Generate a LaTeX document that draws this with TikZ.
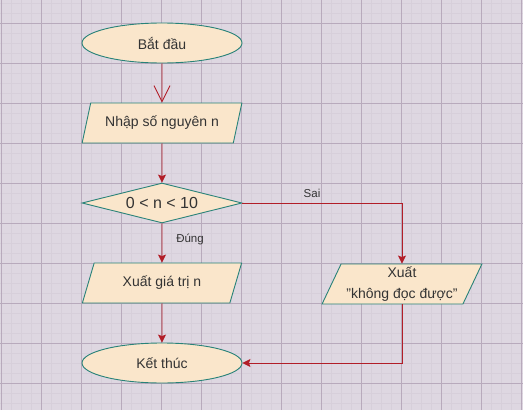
\documentclass[tikz,border=0pt]{standalone}
\usepackage{fontspec}
\setmainfont{Liberation Sans}
\usetikzlibrary{shapes.geometric,arrows.meta}
\definecolor{bgc}{RGB}{222,215,225}
\definecolor{minorc}{RGB}{215,207,218}
\definecolor{majorc}{RGB}{184,170,188}
\definecolor{fillc}{RGB}{250,230,203}
\definecolor{strokec}{RGB}{40,130,120}
\definecolor{linec}{RGB}{178,30,40}
\definecolor{txtc}{RGB}{51,51,51}
\tikzset{
  box/.style={draw=strokec, fill=fillc, line width=0.9pt, text=txtc, inner sep=0pt,
    font=\fontsize{14}{17}\selectfont},
  term/.style={box, ellipse, minimum width=160pt, minimum height=40pt},
  io/.style={box, trapezium, trapezium left angle=63.43, trapezium right angle=116.57,
    trapezium stretches=true, minimum width=160pt, minimum height=40pt},
  decide/.style={box, diamond, aspect=4, minimum width=160pt, minimum height=40pt,
    font=\fontsize{16}{19}\selectfont},
  conn/.style={draw=linec, line width=0.9pt, -{Stealth[length=8pt,width=8pt,inset=1.5pt]}},
  openconn/.style={draw=linec, line width=0.9pt, -{Straight Barb[length=16pt,width=16pt]}},
  lbl/.style={text=txtc, font=\fontsize{11.5}{13}\selectfont, inner sep=0pt}
}
\begin{document}
\begin{tikzpicture}[x=1pt,y=-1pt]
\useasboundingbox (0,0) rectangle (523,410);
\fill[bgc] (0,0) rectangle (523,410);
\foreach \i in {0,...,52} \draw[minorc,line width=0.4pt] (1+10*\i,0) -- (1+10*\i,410);
\foreach \j in {0,...,40} \draw[minorc,line width=0.4pt] (0,3+10*\j) -- (523,3+10*\j);
\foreach \i in {0,...,13} \draw[majorc,line width=0.7pt] (1+40*\i,0) -- (1+40*\i,410);
\foreach \j in {0,...,9} \draw[majorc,line width=0.7pt] (0,23+40*\j) -- (523,23+40*\j);

\node[term] (start) at (162,43) {Bắt đầu};
\node[io] (in1) at (162,123) {Nhập số nguyên n};
\node[decide] (dec) at (162,203) {0 < n < 10};
\node[io] (out1) at (162,283) {Xuất giá trị n};
\node[io, align=center, font=\fontsize{14}{21}\selectfont] (out2) at (402,284) {Xuất\\"không đọc được"};
\node[term] (end) at (162,363) {Kết thúc};

\draw[openconn] (start.south) -- (in1.north);
\draw[conn] (in1.south) -- (dec.north);
\draw[conn] (dec.south) -- (out1.north);
\draw[conn] (dec.east) -| (out2.north);
\draw[conn] (out1.south) -- (end.north);
\draw[conn] (out2.south) |- (end.east);

\node[lbl] (ldung) at (190,239) {Đúng};
\node[lbl] (lsai) at (312,193) {Sai};
\end{tikzpicture}
\end{document}
